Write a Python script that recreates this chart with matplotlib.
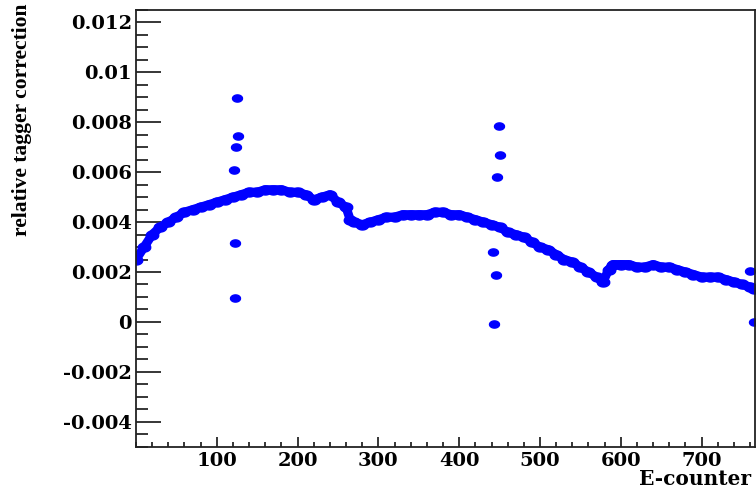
import numpy as np
import matplotlib
matplotlib.use("Agg")
import matplotlib.pyplot as plt
from matplotlib.ticker import FixedLocator, MultipleLocator

# main correction curve (counter, value)
counter = [0, 10, 20, 30, 40, 50, 60, 70, 80, 90, 100, 110, 120, 130, 140, 150,
           160, 170, 180, 190, 200, 210, 220, 230, 240, 250, 260, 265, 270, 280,
           290, 300, 310, 320, 330, 340, 350, 360, 370, 380, 390, 400, 410, 420,
           430, 440, 450, 460, 470, 480, 490, 500, 510, 520, 530, 540, 550, 560,
           570, 578, 585, 590, 600, 610, 620, 630, 640, 650, 660, 670, 680, 690,
           700, 710, 720, 730, 740, 750, 760, 765]
correction = [0.0025, 0.0030, 0.0035, 0.0038, 0.0040, 0.0042, 0.0044, 0.0045,
              0.0046, 0.0047, 0.0048, 0.0049, 0.0050, 0.0051, 0.0052, 0.0052,
              0.0053, 0.0053, 0.0053, 0.0052, 0.0052, 0.0051, 0.0049, 0.0050,
              0.0051, 0.0048, 0.0046, 0.0041, 0.0040, 0.0039, 0.0040, 0.0041,
              0.0042, 0.0042, 0.0043, 0.0043, 0.0043, 0.0043, 0.0044, 0.0044,
              0.0043, 0.0043, 0.0042, 0.0041, 0.0040, 0.0039, 0.0038, 0.0036,
              0.0035, 0.0034, 0.0032, 0.0030, 0.0029, 0.0027, 0.0025, 0.0024,
              0.0022, 0.0020, 0.0018, 0.0016, 0.0021, 0.0023, 0.0023, 0.0023,
              0.0022, 0.0022, 0.0023, 0.0022, 0.0022, 0.0021, 0.0020, 0.0019,
              0.0018, 0.0018, 0.0018, 0.0017, 0.0016, 0.0015, 0.0014, 0.0013]

# stray points
out_counter = [125, 126, 124, 121, 122, 122, 449, 450, 447, 442, 445, 443, 760, 765]
out_value = [0.00896, 0.00745, 0.00699, 0.00609, 0.00316, 0.00097,
             0.00787, 0.00669, 0.00580, 0.00280, 0.00189, -0.00010,
             0.00205, 0.00000]

y_ticks = [-0.004, -0.002, 0, 0.002, 0.004, 0.006, 0.008, 0.01, 0.012]
y_labels = ["-0.004", "-0.002", "0", "0.002", "0.004", "0.006", "0.008", "0.01", "0.012"]
x_ticks = [100, 200, 300, 400, 500, 600, 700]

BLUE = "#0000ff"

# the picture is stretched sideways, so the dots are flat ellipses
t = np.linspace(0, 2 * np.pi, 40)
ellipse = np.column_stack([np.cos(t), 0.72 * np.sin(t)])

fig = plt.figure(figsize=(7.56, 4.94), dpi=100)
ax = fig.add_axes([136 / 756, 1 - 446.7 / 494, 618.5 / 756, 436.7 / 494])

# dense band of points -> thick trace plus the dots on top
ax.plot(counter, correction, color=BLUE, lw=6.5, solid_capstyle="round",
        solid_joinstyle="round")
ax.plot(counter, correction, ls="none", marker=ellipse, ms=9,
        color=BLUE, mec=BLUE)
ax.plot(out_counter, out_value, ls="none", marker=ellipse, ms=7.2,
        color=BLUE, mec=BLUE)

ax.set_xlim(0, 765.5)
ax.set_ylim(-0.005, 0.0125)

ax.yaxis.set_major_locator(FixedLocator(y_ticks))
ax.set_yticklabels(y_labels)
ax.yaxis.set_minor_locator(MultipleLocator(0.0005))
ax.xaxis.set_major_locator(FixedLocator(x_ticks))
ax.set_xticklabels([str(v) for v in x_ticks])
ax.xaxis.set_minor_locator(MultipleLocator(20))

for lab in ax.get_xticklabels() + ax.get_yticklabels():
    lab.set_fontfamily("DejaVu Serif")
    lab.set_fontweight("bold")
    lab.set_fontsize(14)

ax.tick_params(axis="y", which="major", direction="in", length=18, width=1.1, pad=3)
ax.tick_params(axis="y", which="minor", direction="in", length=8.6, width=1.1)
ax.tick_params(axis="x", which="major", direction="in", length=7.2, width=1.1, pad=3.5)
ax.tick_params(axis="x", which="minor", direction="in", length=3.6, width=1.1)

for side in ["left", "bottom", "top", "right"]:
    ax.spines[side].set_linewidth(1.3)
    ax.spines[side].set_color("#222222")

fig.text(22 / 756, 1 - 4 / 494, "relative tagger correction", rotation=90,
         ha="center", va="top", family="Liberation Serif", weight="bold", fontsize=15.5)
fig.text(751 / 756, 1 - 485 / 494, "E-counter", ha="right", va="baseline",
         family="DejaVu Serif", weight="bold", fontsize=14.5)

fig.savefig("out.png", dpi=100)
